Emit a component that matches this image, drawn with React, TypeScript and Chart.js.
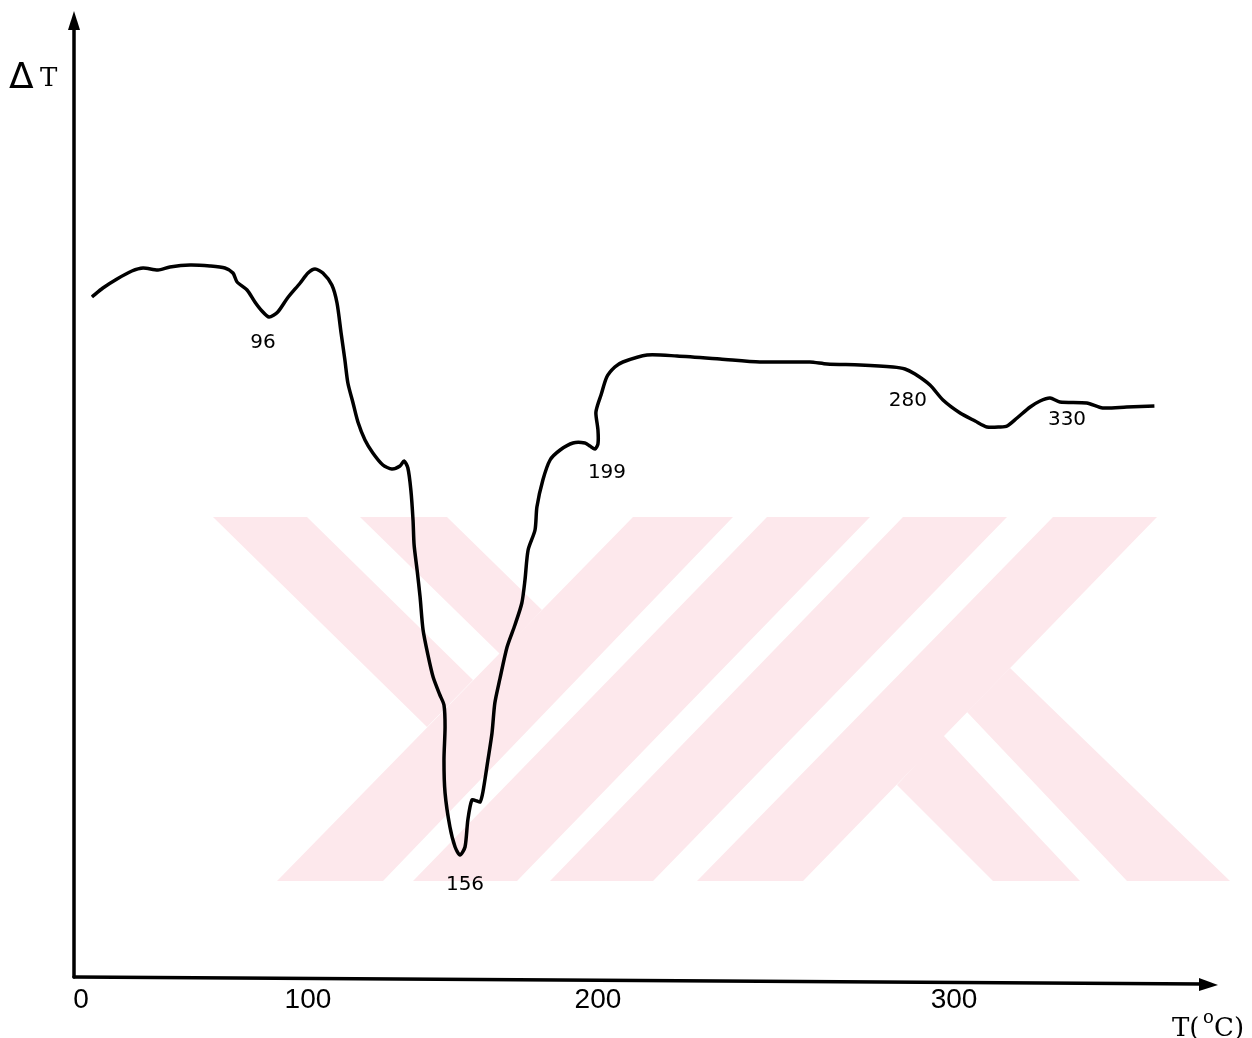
import React, { useEffect, useRef } from 'react';
import { Chart, LinearScale, registerables } from 'chart.js';

// DTA trace: furnace temperature (°C) against ΔT (arbitrary units)
const temperature = [
  5.6, 11.2, 18.4, 26.0, 31.7, 39.3, 45.4, 55.7, 65.9, 73.5, 77.6, 79.7, 84.8, 88.8, 92.4, 96,
  96.9, 97.9, 99.2, 100,
  102.6, 105.5, 108.8, 110.7, 112.2, 113.6, 114.7, 116.6, 118.4, 121.0, 123.9, 127.6, 130.9, 133.9,
  135.4, 136.8, 137.9, 138.7, 139.1, 140.2, 141.3, 142.4, 144.2, 146.1, 148.6, 150.1, 150.5, 150.1,
  150.5, 152.3, 154.2, 156,
  157.6, 158.5, 159.8, 161.4, 162.4, 163.3, 164.9, 166.2, 167.1, 168.7, 171.0, 173.5, 175.7, 176.7,
  177.7, 179.9, 180.5, 182.4, 184.7, 187.9, 192.0, 195.8, 197.4, 199,
  200, 200, 199.3, 200,
  200.8, 202.3, 204.4, 206.5, 212.8, 220.6, 231.8, 242.2, 255.2, 259.7, 268.3, 276.9, 280,
  284.1, 290.2, 295.5,
  301.9, 306.6, 310.3, 314.4, 316.6, 319.7, 323.8, 326.9, 330,
  333.1, 341.5, 346.5, 354.0, 362.7,
];
const deltaT = [
  67.9, 68.8, 69.7, 70.5, 70.8, 70.6, 70.9, 71.1, 71.0, 70.8, 70.3, 69.4, 68.6, 67.4, 66.5, 65.9,
  66.4, 67.8, 69.3, 70.3,
  70.7, 70.3, 69.1, 67.3, 64.3, 61.6, 59.3, 57.3, 55.4, 53.6, 52.3, 51.1, 50.7, 51.0,
  51.5, 50.8, 48.6, 45.6, 43.1, 40.6, 37.9, 34.6, 32.1, 29.9, 28.1, 27.1, 24.9, 21.6,
  18.3, 14.9, 12.9, 12.1,
  12.9, 15.6, 17.6, 17.5, 17.4, 18.4, 21.6, 24.3, 27.3, 29.7, 32.9, 35.1, 37.3, 39.6,
  42.6, 44.6, 46.9, 49.6, 51.6, 52.6, 53.3, 53.3, 53.0, 52.7,
  53.2, 54.6, 56.3, 57.2,
  58.1, 59.9, 60.9, 61.4, 62.1, 62.0, 61.7, 61.4, 61.4, 61.2, 61.1, 60.9, 60.7,
  60.2, 59.1, 57.6,
  56.3, 55.5, 54.9, 54.9, 55.0, 55.8, 56.9, 57.5, 57.8,
  57.4, 57.3, 56.8, 56.9, 57.0,
];

const xTickValues = [0, 100, 200, 300];

// marked thermal events
const peakTemps = [96, 156, 199, 280, 330];
const peakDeltaT = [65.9, 12.1, 52.7, 60.7, 57.8];
const peakLabels = ['96', '156', '199', '280', '330'];

// The temperature axis was spaced by hand and is not uniform:
// each anchor temperature sits at the given fraction of the axis length.
const axisTemps = [-3.6, 0, 96, 100, 156, 199, 200, 280, 300, 330, 382.3];
const axisFractions = [0, 0.0061, 0.1706, 0.2047, 0.3377, 0.4558, 0.4584, 0.727, 0.7699, 0.8539, 1];

function piecewise(v: number, xs: number[], ys: number[]): number {
  const n = xs.length - 1;
  if (v <= xs[0]) return ys[0] + ((v - xs[0]) * (ys[1] - ys[0])) / (xs[1] - xs[0]);
  for (let i = 1; i <= n; i++) {
    if (v <= xs[i]) {
      const t = (v - xs[i - 1]) / (xs[i] - xs[i - 1]);
      return ys[i - 1] + t * (ys[i] - ys[i - 1]);
    }
  }
  return ys[n] + ((v - xs[n]) * (ys[n] - ys[n - 1])) / (xs[n] - xs[n - 1]);
}

class HandSpacedScale extends LinearScale {
  static id = 'handSpaced';
  static defaults = {};
  getPixelForValue(value: number) {
    return this.getPixelForDecimal(piecewise(value, axisTemps, axisFractions));
  }
  getValueForPixel(pixel: number) {
    return piecewise(this.getDecimalForPixel(pixel), axisFractions, axisTemps);
  }
}

Chart.register(...registerables, HandSpacedScale);

// light background emblem made of slanted stripes
const emblem: number[][][] = [
  [[213, 517], [307, 517], [473, 680], [427, 727]],
  [[360, 517], [447, 517], [542, 610], [500, 654]],
  [[633, 517], [733, 517], [383, 881], [277, 881]],
  [[767, 517], [870, 517], [517, 881], [413, 881]],
  [[903, 517], [1007, 517], [653, 881], [550, 881]],
  [[1053, 517], [1157, 517], [803, 881], [697, 881]],
  [[897, 785], [943, 735], [1080, 881], [993, 881]],
  [[967, 712], [1010, 668], [1230, 881], [1127, 881]],
];

const peakLabelOffsets = [[-6, 26], [5, 30], [12, 24], [3, 32], [17, 22]];

const serif = '"DejaVu Serif", "Liberation Serif", serif';

const decorPlugin = {
  id: 'dtaDecor',
  beforeDatasetsDraw(chart: any) {
    const ctx = chart.ctx;
    ctx.save();
    ctx.fillStyle = '#fde8ec';
    for (const poly of emblem) {
      ctx.beginPath();
      poly.forEach(([x, y], i) => (i ? ctx.lineTo(x, y) : ctx.moveTo(x, y)));
      ctx.closePath();
      ctx.fill();
    }
    ctx.restore();
  },
  afterDatasetsDraw(chart: any) {
    const ctx = chart.ctx;
    const { left, right, bottom, top } = chart.chartArea;
    const xs = chart.scales.x;
    const ys = chart.scales.y;
    ctx.save();
    ctx.strokeStyle = '#000';
    ctx.fillStyle = '#000';
    ctx.lineWidth = 3.5;
    ctx.lineCap = 'round';

    // ΔT axis with arrow
    ctx.beginPath();
    ctx.moveTo(left, bottom + 1);
    ctx.lineTo(left, top + 10);
    ctx.stroke();
    ctx.beginPath();
    ctx.moveTo(left, top - 5);
    ctx.lineTo(left - 6, top + 14);
    ctx.lineTo(left + 6, top + 14);
    ctx.closePath();
    ctx.fill();

    // temperature axis with arrow
    ctx.beginPath();
    ctx.moveTo(left, bottom + 1);
    ctx.lineTo(right - 14, bottom + 8);
    ctx.stroke();
    ctx.beginPath();
    ctx.moveTo(right + 1, bottom + 9);
    ctx.lineTo(right - 18, bottom + 2);
    ctx.lineTo(right - 18, bottom + 15);
    ctx.closePath();
    ctx.fill();

    // tick labels
    ctx.font = '28px "Liberation Sans Narrow", "Liberation Sans", sans-serif';
    ctx.textAlign = 'center';
    ctx.textBaseline = 'middle';
    for (const t of xTickValues) {
      ctx.fillText(String(t), xs.getPixelForValue(t), bottom + 24);
    }

    // axis titles
    ctx.textAlign = 'left';
    ctx.textBaseline = 'alphabetic';
    ctx.font = '36px "DejaVu Sans", sans-serif';
    ctx.fillText('Δ', 9, 88);
    ctx.font = `26px ${serif}`;
    ctx.fillText('T', 40, 86);

    ctx.fillText('T(', 1172, 1036);
    ctx.font = `18px ${serif}`;
    ctx.fillText('o', 1203, 1023);
    ctx.font = `26px ${serif}`;
    ctx.fillText('C)', 1214, 1036);

    // event temperatures next to the marks
    ctx.font = '20px "DejaVu Sans", sans-serif';
    ctx.textAlign = 'center';
    ctx.textBaseline = 'middle';
    peakTemps.forEach((t, i) => {
      const [dx, dy] = peakLabelOffsets[i];
      ctx.fillText(peakLabels[i], xs.getPixelForValue(t) + dx, ys.getPixelForValue(peakDeltaT[i]) + dy);
    });
    ctx.restore();
  },
};

export default function App() {
  const canvasRef = useRef<HTMLCanvasElement | null>(null);

  useEffect(() => {
    document.body.style.margin = '0';
    document.body.style.overflow = 'hidden';
    const canvas = canvasRef.current;
    if (!canvas) return;
    const chart = new Chart(canvas, {
      type: 'line',
      data: {
        datasets: [
          {
            data: temperature.map((t, i) => ({ x: t, y: deltaT[i] })),
            borderColor: '#000',
            borderWidth: 3.5,
            pointRadius: 0,
            tension: 0.25,
            fill: false,
            clip: false,
          },
        ],
      },
      options: {
        responsive: false,
        animation: false,
        devicePixelRatio: 1,
        layout: { padding: { left: 74, right: 35, top: 16, bottom: 62 } },
        plugins: { legend: { display: false }, tooltip: { enabled: false } },
        scales: {
          x: { type: 'handSpaced', min: -3.6, max: 382.3, display: false },
          y: { type: 'linear', min: 0, max: 96, display: false },
        },
      },
      plugins: [decorPlugin],
    });
    return () => chart.destroy();
  }, []);

  return (
    <div style={{ width: 1252, height: 1038, background: '#fff' }}>
      <canvas ref={canvasRef} width={1252} height={1038} style={{ display: 'block' }} />
    </div>
  );
}
